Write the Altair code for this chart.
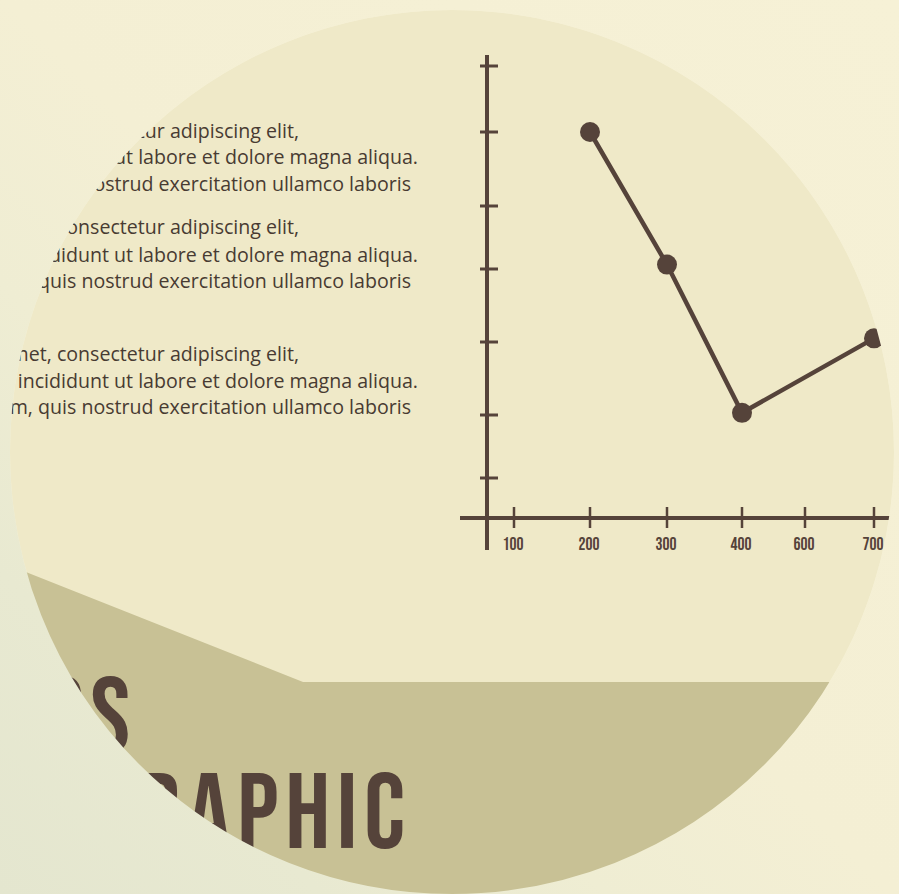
import altair as alt
import pandas as pd

# ---------------- data ----------------
x_labels = [100, 200, 300, 400, 600, 700]
y_ticks = [1, 2, 3, 4, 5, 6, 7]
series_x = [200, 300, 400, 700]
series_y = [6.0, 4.07, 2.03, 3.05]

body_lines = [
    "Lorem ipsum dolor sit amet, consectetur adipiscing elit,",
    "sed do eiusmod tempor incididunt ut labore et dolore magna aliqua.",
    "Ut enim ad minim veniam, quis nostrud exercitation ullamco laboris",
]
title_lines = ["BUSINESS", "INFOGRAPHIC"]

# ---------------- style ----------------
BROWN = "#55433a"
TEXT = "#483b32"
INNER = "#efe9c8"
OLIVE = "#c8c195"
W, H = 899, 894
CX, CY, R = 452, 452, 442
COND = ("Bebas Neue, Oswald, Nimbus Sans Narrow, Noto Sans ExtraCondensed, "
        "Roboto Condensed, Liberation Sans Narrow, DejaVu Sans Condensed, sans-serif")
HAIR = "\u200a"  # tracking for the title

# scales (piecewise, the axis spacing in the picture is irregular)
xscale = alt.Scale(domain=x_labels, range=[514, 590, 667, 742, 805, 874],
                   nice=False, zero=False)
yscale = alt.Scale(domain=[0, 1, 2, 3, 4, 5, 6, 7],
                   range=[518, 478, 415, 342, 269, 206, 132, 66],
                   nice=False, zero=False)

one = pd.DataFrame({"k": [0]})
base = alt.Chart(one)

layers = []

# big circle
layers.append(base.mark_circle(color=INNER, opacity=1).encode(
    x=alt.value(CX), y=alt.value(CY), size=alt.value((2 * R) ** 2)))

# olive band (custom symbol path, unit box scaled by 600 around circle center)
olive_path = "M -0.92 0.1167 L -0.2483 0.3833 L 0.9133 0.3833 L 0.9133 0.9133 L -0.92 0.9133 Z"
layers.append(base.mark_point(shape=olive_path, filled=True, fill=OLIVE,
                              opacity=1).encode(
    x=alt.value(CX), y=alt.value(CY), size=alt.value(1200 ** 2)))

# body text blocks
block_y = [[132, 158, 185], [228, 256, 282], [355, 382, 408]]
line_end = [299, 418, 411]
for b in range(3):
    for i, txt in enumerate(body_lines):
        layers.append(base.mark_text(align="right", baseline="middle",
                                     font="Open Sans", fontSize=19.6,
                                     color=TEXT).encode(
            x=alt.value(line_end[i]), y=alt.value(block_y[b][i]),
            text=alt.value(txt)))

# axes lines
layers.append(base.mark_rule(color=BROWN, strokeWidth=4).encode(
    x=alt.value(487), y=alt.value(55), y2=alt.value(550)))
layers.append(base.mark_rule(color=BROWN, strokeWidth=4).encode(
    x=alt.value(460), x2=alt.value(893), y=alt.value(518)))

# y ticks
ydf = pd.DataFrame({"v": y_ticks})
layers.append(alt.Chart(ydf).mark_rule(color=BROWN, strokeWidth=3).encode(
    y=alt.Y("v:Q", scale=yscale, axis=None),
    x=alt.value(480), x2=alt.value(498)))

# x ticks + labels
xdf = pd.DataFrame({"v": x_labels, "lab": [str(v) for v in x_labels]})
layers.append(alt.Chart(xdf).mark_rule(color=BROWN, strokeWidth=2.5).encode(
    x=alt.X("v:Q", scale=xscale, axis=None),
    y=alt.value(507), y2=alt.value(528)))
layers.append(alt.Chart(xdf).mark_text(font=COND, fontSize=17.5,
                                       color=BROWN, baseline="middle", dx=-1).encode(
    x=alt.X("v:Q", scale=xscale, axis=None),
    y=alt.value(545), text="lab:N"))

# series
sdf = pd.DataFrame({"x": series_x, "y": series_y})
layers.append(alt.Chart(sdf).mark_line(color=BROWN, strokeWidth=4.5).encode(
    x=alt.X("x:Q", scale=xscale, axis=None),
    y=alt.Y("y:Q", scale=yscale, axis=None)))
layers.append(alt.Chart(sdf).mark_circle(color=BROWN, opacity=1, size=400).encode(
    x=alt.X("x:Q", scale=xscale, axis=None),
    y=alt.Y("y:Q", scale=yscale, axis=None)))

# title (letters tracked with hair spaces)
layers.append(base.mark_text(align="right", baseline="alphabetic", font=COND,
                             fontSize=107, color=BROWN).encode(
    x=alt.value(130), y=alt.value(752), text=alt.value(HAIR.join(title_lines[0]))))
layers.append(base.mark_text(align="right", baseline="alphabetic", font=COND,
                             fontSize=107, color=BROWN).encode(
    x=alt.value(405), y=alt.value(848), text=alt.value(HAIR.join(title_lines[1]))))

# outside-of-circle ring mask
RW = 420
RC = R + RW / 2
grad = alt.LinearGradient(
    gradient="linear",
    stops=[alt.GradientStop(color="#f6f1d6", offset=0),
           alt.GradientStop(color="#f4efd4", offset=0.5),
           alt.GradientStop(color="#efedd3", offset=0.66),
           alt.GradientStop(color="#e8e9d1", offset=0.82),
           alt.GradientStop(color="#e4e6cf", offset=1)],
    x1=0.843, y1=0.153, x2=0.153, y2=0.839)
layers.append(base.mark_point(shape="circle", filled=False, stroke=grad,
                              strokeWidth=RW, opacity=1).encode(
    x=alt.value(CX), y=alt.value(CY), size=alt.value((2 * RC) ** 2)))

chart = alt.layer(*layers).properties(
    width=W, height=H, padding=0, autosize=alt.AutoSizeParams(type="none"),
    background="#f5f0d5"
).configure_view(stroke=None)

chart.save("out.html", embed_options={"renderer": "svg", "actions": False})
